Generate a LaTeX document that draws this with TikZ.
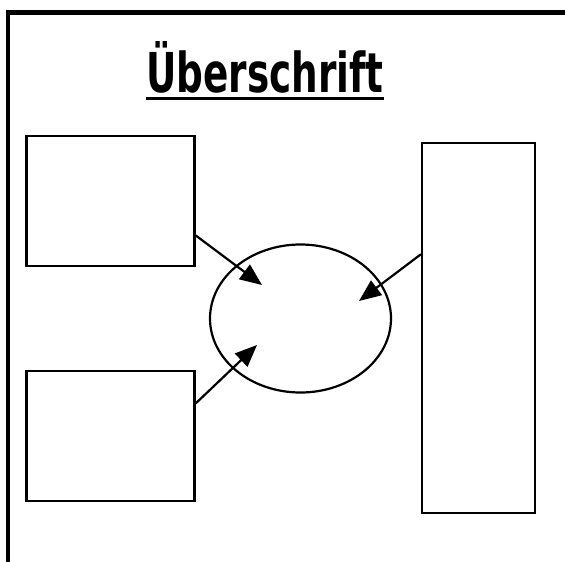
\documentclass[tikz,border=0pt]{standalone}
\usepackage{fontspec}
\newfontfamily\titlefont{DejaVu Sans Condensed}
\usetikzlibrary{shapes.geometric,arrows.meta,positioning}
\tikzstyle{box} = [draw, line width=2.2pt, minimum width=168pt, minimum height=130pt, inner sep=0pt]
\tikzstyle{tall} = [draw, line width=2.2pt, minimum width=113pt, minimum height=370pt, inner sep=0pt]
\tikzstyle{blob} = [draw, ellipse, line width=2.2pt, minimum width=181pt, minimum height=148pt, inner sep=0pt]
\tikzstyle{flow} = [-{Triangle[length=22pt,width=18pt]}, line width=2.2pt]
\tikzstyle{frame} = [line width=4.5pt]

\begin{document}
\begin{tikzpicture}[x=1pt,y=-1pt]
		\useasboundingbox (0,0) rectangle (565,562);
		\draw [frame] (8,562) -- (8,12.5) -- (565,12.5);

		\node [inner sep=0pt, anchor=base, font=\titlefont\bfseries\fontsize{55}{60}\selectfont] (title) at (265,92) {\scalebox{0.755}[1]{Überschrift}};
		\draw [line width=3.5pt] ([yshift=-6.5pt]title.base west) -- ([yshift=-6.5pt]title.base east);

		\node [box] (top) at (110.5,201) {};
		\node [box, below=103pt of top] (bottom) {};
		\node [tall] (side) at (478.5,328) {};
		\node [blob] (center) at (300.5,318.5) {};

		\coordinate (intop) at (262,285);
		\coordinate (inbottom) at (257,345);
		\coordinate (inside) at (359,301);

		\draw [flow] (top.-22.5) -- (intop);
		\draw [flow] (bottom.21.6) -- (inbottom);
		\draw [flow] (side.128.1) -- (inside);
\end{tikzpicture}
\end{document}
